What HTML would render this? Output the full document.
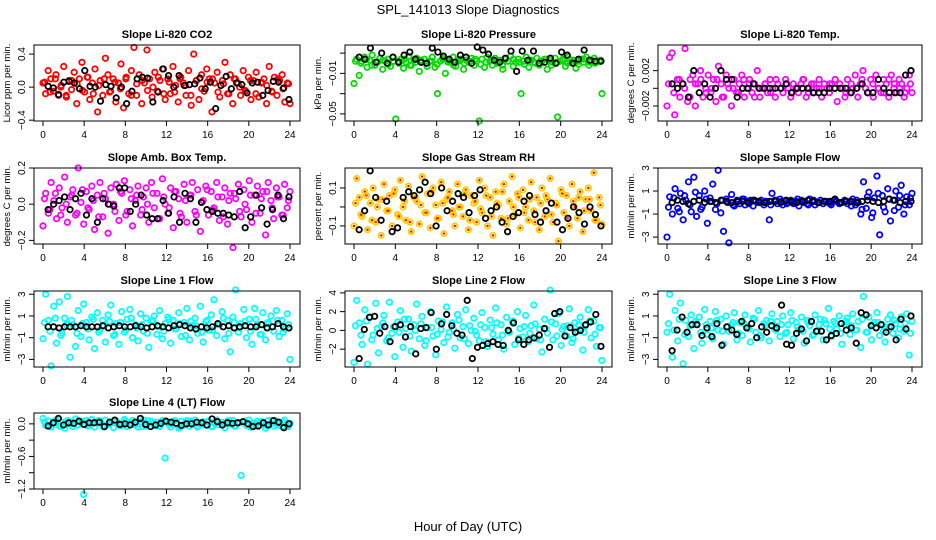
<!DOCTYPE html>
<html><head><meta charset="utf-8">
<style>
html,body{margin:0;padding:0;background:#fff;}
svg{display:block;font-family:"Liberation Sans",sans-serif;}
</style></head>
<body>
<svg id="chart" width="936" height="540" viewBox="0 0 936 540" xmlns="http://www.w3.org/2000/svg">
<rect width="936" height="540" fill="#fff"/>
<text x="468" y="14" text-anchor="middle" font-size="13">SPL_141013  Slope Diagnostics</text>
<text x="468" y="531" text-anchor="middle" font-size="13">Hour of Day (UTC)</text>
</svg>
<script>
// ---- data (spread uniformly across 0-24 h) ----
const xTicks = [0,4,8,12,16,20,24];
const co2Vals = [0.05,-0.08,0.2,0.1,-0.05,0.15,-0.1,0.02,0.25,-0.12,0.08,-0.03,0.18,-0.2,0.1,0.3,-0.06,0.12,-0.15,0.05,0.22,-0.3,0.08,-0.1,0.35,0.15,-0.05,0.1,-0.18,0.05,0.28,-0.25,0.12,-0.08,0.2,0.48,-0.1,0.15,-0.2,0.05,0.45,0.1,-0.12,0.18,-0.05,0.08,0.22,-0.15,0.1,-0.08,0.25,0.02,-0.18,0.12,0.05,-0.1,0.2,-0.22,0.4,0.08,-0.15,0.15,-0.05,0.22,0.1,-0.3,0.05,0.18,-0.12,0.08,0.3,-0.08,0.15,-0.2,0.1,0.05,-0.1,0.2,-0.05,0.12,-0.15,0.08,0.18,-0.12,0.05,0.1,-0.2,0.25,-0.05,0.12,-0.1,0.08,0.15,-0.18,0.05,-0.2];
const co2Core = [0.06,-0.06,0.1,0.0,-0.1,0.08,0.04,-0.04,0.12,-0.08,0.02,0.1,-0.06,0.06,-0.02,0.1,-0.1,0.04,0.08,-0.04,0.0,0.12,-0.08,0.06,-0.06,0.1,0.02,-0.1,0.08,-0.02,0.06,0.1,-0.06,0.04,-0.08,0.1,0.0,-0.04,0.08,-0.08,0.06,0.02,-0.06,0.1,-0.02,0.04];
const co2Black = [0.01,-0.01,-0.09,0.06,0.07,0.05,-0.02,0.2,0.01,0.0,-0.17,0.03,0.01,-0.13,0.0,-0.2,-0.05,0.1,0.12,0.11,-0.18,-0.06,0.22,0.14,0.0,0.14,0.02,0.03,0.04,0.11,-0.02,0.06,-0.26,0.02,0.13,-0.02,0.05,0.03,-0.07,0.05,0.06,-0.1,-0.04,0.07,0.06,-0.01,-0.15];
const presVals = [-0.02,0.004,-0.012,0.002,0.006,-0.004,0.003,0.008,-0.002,0.001,0.005,-0.006,0.002,0.004,-0.003,0.006,-0.055,0.002,0.004,-0.005,0.001,0.007,-0.002,0.003,0.005,-0.008,0.001,0.004,-0.003,0.002,0.006,-0.004,-0.03,0.002,0.005,-0.01,0.003,0.001,0.006,-0.003,0.002,0.004,-0.006,0.003,0.001,0.005,-0.002,0.002,-0.057,0.004,-0.004,0.006,0.002,-0.002,0.005,0.001,0.003,-0.006,0.004,0.002,0.007,-0.003,0.001,0.004,-0.03,0.002,0.006,-0.004,0.003,0.001,0.005,-0.002,0.002,0.004,-0.006,0.003,0.001,0.005,-0.053,0.002,0.004,-0.003,0.006,0.001,0.003,-0.005,0.002,0.004,0.001,0.006,-0.002,0.003,0.005,0.001,0.002,-0.03];
const presCore = [0.002,0.0,0.004,-0.002,0.001,0.003,-0.001,0.002,0.0,0.004,-0.002,0.001,0.003,0.0,0.002,-0.001,0.004,0.001,-0.002,0.003,0.0,0.002,0.004,-0.001,0.001,0.003,0.0,-0.002,0.002,0.004,0.001,-0.001,0.003,0.0,0.002,0.004,-0.002,0.001,0.003,0.0,0.002,-0.001,0.004,0.001,0.0,0.003];
const presBlack = [0.006,0.004,0.015,0.001,0.01,0.0,0.006,0.001,0.008,0.011,0.004,0.001,0.0,0.015,0.011,0.007,0.004,0.001,0.008,0.006,0.0,0.016,0.013,0.009,0.003,0.001,0.005,0.012,-0.008,0.012,0.003,0.012,0.0,0.001,0.005,0.0,0.011,0.008,0.0,0.004,0.013,0.003,0.002,0.002];
const tempVals = [-0.002,0.0035,0.004,-0.003,0.001,-0.001,0.0005,0.0045,-0.0015,0.001,0.0015,-0.002,0.0005,0.002,-0.001,0.0,0.0015,-0.0005,0.001,-0.0015,0.0025,0.0005,-0.001,0.0015,0.0,-0.002,0.001,-0.0005,0.0005,0.0015,-0.001,0.0,0.001,-0.0005,0.0005,0.002,-0.001,0.0,0.0005,-0.0005,0.001,0.0,-0.001,0.0005,0.0,-0.0005,0.001,0.0,-0.001,0.0005,0.0,-0.0005,0.0005,0.001,-0.001,0.0,0.0005,-0.0005,0.0,0.001,-0.001,0.0005,0.0,-0.0005,0.0005,0.0,-0.0015,0.0005,0.0,-0.001,0.001,-0.0005,0.0,0.0015,-0.001,0.0005,0.002,0.0,-0.0005,0.001,-0.001,0.0015,0.0,-0.0005,0.001,0.0005,-0.001,0.0015,0.0,-0.0005,0.001,0.0005,-0.001,0.0,0.0015,-0.0005];
const tempCore = [0.0005,-0.0005,0.001,0.0,-0.001,0.0005,0.001,-0.0005,0.0,0.001,-0.001,0.0005,0.0,-0.0005,0.001,0.0005,-0.001,0.0,0.0005,-0.0005,0.001,0.0,0.0005,-0.0005,0.0,0.001,-0.0005,0.0005,0.0,-0.0005,0.0005,0.001,0.0,-0.0005,0.0005,0.0,0.001,-0.0005,0.0005,0.0,-0.0005,0.001,0.0005,0.0,-0.0005,0.0005];
const tempBlack = [0.0005,0.0,0.0005,-0.001,0.002,-0.0005,0.0005,-0.001,0.0,0.002,0.001,0.001,-0.001,0.0,0.0,0.0005,0.0,0.0,0.0,0.0,0.0,0.0005,-0.0005,0.0,0.0,0.0,-0.0005,-0.0005,-0.0005,0.0,0.0,0.0,0.0,-0.0005,0.0,0.0005,-0.0005,-0.0005,0.001,0.0,-0.0005,-0.0005,-0.0005,0.0015,0.002];
const ambVals = [-0.12,0.06,-0.05,0.12,0.02,-0.08,0.09,-0.02,0.15,-0.1,0.04,0.08,-0.06,0.2,0.01,-0.11,0.07,-0.03,0.1,-0.14,0.05,0.12,-0.07,0.03,-0.16,0.09,0.0,0.11,-0.09,0.06,0.13,-0.04,0.08,-0.12,0.02,0.1,-0.06,0.04,0.09,-0.1,0.12,-0.02,0.06,-0.08,0.14,0.0,-0.05,0.09,-0.13,0.07,0.03,-0.07,0.11,-0.1,0.05,0.12,-0.04,0.08,-0.15,0.02,0.1,-0.06,0.07,-0.02,0.12,-0.09,0.04,0.09,-0.11,0.06,-0.24,0.03,0.11,-0.07,0.08,-0.03,0.13,-0.1,0.05,0.1,-0.05,0.07,-0.17,0.12,0.02,-0.08,0.09,0.04,-0.06,0.11,-0.02,0.07];
const ambCore = [0.03,-0.03,0.06,-0.06,0.0,0.05,-0.05,0.08,-0.02,0.02,-0.07,0.06,0.0,-0.04,0.07,-0.06,0.03,0.05,-0.03,0.0,0.06,-0.08,0.04,-0.02,0.07,-0.05,0.02,0.05,-0.06,0.01,0.08,-0.03,0.04,-0.07,0.02,0.06,-0.04,0.0,0.05,-0.05,0.03,0.07,-0.02,0.04,-0.06,0.02];
const ambBlack = [-0.03,0.0,0.02,0.04,-0.03,0.03,0.06,-0.06,0.03,-0.1,0.03,0.0,-0.01,0.09,0.09,-0.04,0.0,0.05,-0.06,-0.08,-0.08,0.02,-0.05,0.04,-0.1,0.06,0.03,-0.1,0.01,-0.03,-0.04,-0.05,-0.05,-0.06,-0.07,0.07,-0.13,-0.07,0.05,-0.02,-0.11,-0.03,0.05,-0.08,0.04];
const rhVals = [-0.1,0.15,0.05,-0.05,0.08,-0.12,0.02,0.1,-0.08,0.04,-0.15,0.12,-0.02,0.06,-0.1,0.09,-0.04,0.14,0.0,-0.07,0.11,-0.13,0.05,0.03,-0.09,0.16,-0.03,0.07,-0.11,0.1,0.01,-0.06,0.13,-0.14,0.04,0.08,-0.02,-0.1,0.12,0.0,-0.05,0.09,-0.12,0.06,0.02,-0.08,0.14,-0.03,0.1,-0.1,0.05,-0.15,0.08,0.01,-0.06,0.12,-0.09,0.03,0.16,-0.04,0.07,-0.11,0.09,0.0,-0.07,0.13,-0.02,0.05,-0.12,0.1,-0.05,0.04,0.15,-0.08,0.02,-0.18,0.09,-0.03,0.06,-0.1,0.12,0.0,-0.06,0.08,-0.13,0.04,0.1,-0.02,0.18,-0.07,0.05,-0.09];
const rhCore = [0.02,-0.04,0.06,-0.07,0.0,0.04,-0.02,0.07,-0.05,0.03,-0.08,0.05,0.01,-0.03,0.08,-0.06,0.02,0.05,-0.04,0.0,0.07,-0.07,0.03,-0.01,0.06,-0.05,0.02,0.08,-0.06,0.0,0.05,-0.03,0.04,-0.08,0.02,0.06,-0.04,0.01,0.07,-0.06,0.03,0.05,-0.02,0.04,-0.07,0.01];
const rhBlack = [-0.12,-0.02,0.19,0.05,-0.07,0.03,-0.13,-0.11,0.05,0.08,0.06,0.09,0.13,0.07,-0.1,0.1,-0.02,0.03,0.07,0.05,-0.03,0.06,0.09,-0.06,-0.02,0.0,-0.08,-0.13,-0.05,-0.03,0.03,0.06,-0.04,-0.08,-0.02,0.02,-0.08,-0.12,-0.06,0.0,-0.03,-0.09,0.0,-0.04,-0.1];
const sampleVals = [-3.0,0.5,-1.0,1.2,-0.5,0.8,-1.5,0.2,1.8,-0.8,2.2,-1.2,0.6,-0.4,1.0,-1.8,0.4,1.6,-0.6,2.8,-0.9,-2.5,0.3,-3.5,0.7,-0.3,0.2,-0.1,0.3,-0.2,0.1,0.2,-0.3,0.1,0.0,0.2,-0.2,0.1,-1.5,0.8,0.2,-0.1,0.3,-0.2,0.1,0.0,0.2,-0.1,0.1,-0.3,0.2,0.0,-0.1,0.3,0.1,-0.2,0.0,0.2,-0.1,0.1,0.0,-0.2,0.2,0.1,-0.1,0.0,0.2,-0.1,0.1,0.3,-0.2,0.0,-1.0,1.8,-0.5,0.9,-1.3,0.4,2.3,-2.8,0.6,-0.8,1.2,-1.6,0.2,1.0,-0.4,1.5,-1.0,0.5,-0.2,0.8];
const sampleCore = [-0.4,0.4,-0.8,0.6,-0.2,0.9,-0.6,0.3,0.1,-0.1,0.2,0.0,-0.2,0.1,0.3,-0.1,0.2,0.0,0.1,-0.2,0.2,0.1,-0.1,0.0,0.3,0.1,-0.2,0.2,0.0,0.1,-0.1,0.2,0.0,0.1,-0.3,0.2,-0.6,0.5,-0.9,0.8,-0.4,0.3,-0.7,0.6,-0.2,0.4];
const sampleBlack = [0.0,0.2,0.1,-0.1,0.1,0.2,0.0,0.1,0.0,0.2,0.1,0.0,0.1,0.1,0.0,0.2,0.1,0.0,0.1,0.1,0.0,0.2,0.1,0.0,0.1,0.2,0.1,0.0,0.1,0.1,0.3,0.0,0.1,0.1,0.0,0.1,0.2,0.1,0.0,0.1,0.3,0.2,0.0,0.1,0.1];
const line1Vals = [-1.1,3.0,0.6,-3.6,1.9,-1.5,2.3,-0.6,0.8,2.8,-2.8,0.2,-1.8,1.5,-0.9,2.1,0.4,-1.2,0.9,-2.0,1.3,-0.3,0.6,-1.4,1.1,2.0,-0.8,0.3,-1.6,1.4,-0.5,0.7,1.6,-1.0,0.2,-1.3,1.2,-0.4,0.8,-1.9,0.5,1.0,-0.7,1.5,-1.1,0.3,0.9,-1.5,0.6,-0.2,1.3,-0.9,0.4,1.7,-1.2,0.1,0.8,-0.6,1.9,-1.4,0.5,-0.3,1.1,2.5,-0.8,0.2,1.4,-1.1,0.6,-2.3,0.9,3.4,-0.5,0.3,1.6,-1.0,0.7,-1.6,1.7,0.2,-0.7,1.3,-1.2,0.4,1.0,-0.4,1.5,-0.9,0.6,-0.2,1.2,-3.0];
const line1Core = [0.4,-0.4,0.8,-0.8,0.2,0.6,-0.6,0.3,-0.2,0.7,-0.5,0.1,0.5,-0.7,0.4,-0.3,0.8,-0.1,0.2,-0.6,0.6,0.0,-0.4,0.7,-0.2,0.3,-0.8,0.5,0.1,-0.5,0.6,-0.3,0.2,0.8,-0.6,0.4,-0.1,0.5,-0.4,0.7,-0.7,0.3,0.0,0.6,-0.5,0.2];
const line1Black = [0.0,0.0,-0.1,0.0,0.0,0.0,0.1,0.0,0.0,0.0,0.1,-0.1,0.0,0.1,0.0,0.0,0.1,0.0,-0.1,0.0,0.1,0.0,-0.1,0.1,0.2,0.1,-0.1,-0.2,0.0,-0.1,0.0,0.3,0.0,0.1,-0.1,0.0,0.1,0.0,0.0,0.2,-0.1,0.0,0.3,0.0,-0.1];
const line2Vals = [-3.4,3.2,0.8,-1.5,2.2,-3.6,1.4,-0.5,2.9,-2.4,0.4,1.6,-1.1,3.0,-0.3,-2.8,0.9,2.1,-1.8,0.2,1.2,-2.2,0.6,2.8,-0.9,1.5,-1.6,0.3,2.0,-0.6,-2.6,1.0,0.1,-1.3,2.5,-0.2,0.8,-1.9,1.7,-0.8,0.4,2.2,-1.4,0.0,1.3,-0.5,-1.1,1.9,0.3,-1.7,1.1,-0.4,2.4,-1.0,0.6,-2.0,1.4,-0.2,0.9,-1.5,2.0,0.2,-0.7,1.6,-1.2,0.5,2.7,-0.9,0.1,-2.3,1.2,-0.3,4.3,-1.0,0.7,1.8,-1.6,0.4,-0.6,2.3,-1.3,0.8,-0.1,1.4,-2.1,0.5,2.2,-0.8,1.0,-1.7,0.3,-3.2];
const line2Core = [0.5,-0.5,1.0,-1.0,0.2,0.8,-0.8,0.4,-0.2,1.2,-0.6,0.0,0.7,-1.1,0.3,-0.4,0.9,-0.7,0.1,1.1,-0.9,0.5,-0.1,0.6,-1.2,0.3,0.8,-0.5,0.0,1.0,-0.8,0.4,-0.3,0.7,-1.0,0.2,0.9,-0.6,0.1,0.5,-0.9,0.6,-0.2,1.0,-0.4,0.3];
const line2Black = [-3.0,0.1,1.4,1.5,-0.3,0.4,-1.2,0.4,0.6,-0.7,0.4,-2.5,0.2,0.3,1.9,-2.0,0.7,1.7,0.5,-0.3,-0.5,3.2,-3.0,-1.8,-1.6,-1.4,-1.2,-1.5,-1.6,0.0,0.8,-1.0,-1.5,-1.0,-0.8,-0.5,0.2,-1.8,1.8,2.0,-0.6,0.3,-0.2,0.0,0.6,0.9,1.7,-1.7];
const line3Vals = [-0.5,3.0,-2.8,1.5,-1.3,2.2,-3.4,0.6,-0.9,1.1,-2.0,0.3,0.9,-1.5,1.6,-0.7,0.5,-1.1,1.4,-0.3,0.7,-1.6,1.0,-0.4,0.2,1.3,-1.2,0.4,-0.8,1.1,0.0,-1.4,0.8,-0.5,1.5,-1.0,0.3,0.6,-1.3,1.2,-0.2,0.5,-0.9,1.0,-0.6,0.2,1.3,-1.1,0.4,-0.3,0.9,-1.5,0.6,0.1,-0.8,1.1,-0.4,0.7,-1.2,0.3,1.7,-0.9,0.5,-0.2,1.0,-1.6,0.2,0.8,-0.7,1.2,-0.3,0.5,-1.9,2.8,-0.5,0.9,-1.2,0.4,1.3,-0.8,0.2,-1.4,0.7,1.1,-0.6,0.3,-1.0,0.9,-0.4,1.2,-2.6,0.5];
const line3Core = [0.3,-0.3,0.7,-0.7,0.1,0.5,-0.5,0.2,-0.1,0.6,-0.4,0.0,0.4,-0.6,0.3,-0.2,0.7,-0.8,0.1,0.5,-0.3,0.2,-0.5,0.6,0.0,-0.4,0.4,-0.7,0.2,0.6,-0.2,0.3,-0.6,0.5,0.1,-0.3,0.7,-0.5,0.2,0.4,-0.4,0.0,0.6,-0.2,0.3,-0.6];
const line3Black = [-2.2,-0.3,0.9,-0.5,0.2,0.2,-0.8,-0.1,-0.9,0.3,-1.7,0.0,-0.3,-0.7,0.5,-0.1,0.3,-1.0,0.0,-0.5,0.1,-0.1,2.0,-1.6,-1.7,-0.6,-0.2,-1.3,0.5,-0.4,-0.4,-1.2,-0.8,-0.6,0.3,-0.3,-0.1,-1.5,1.3,1.1,0.1,-0.1,0.2,-0.5,0.0,-1.2,0.7,-0.2,1.0];
const line4Vals = [0.1,-0.03,0.05,-0.06,0.02,0.07,-0.04,0.03,-0.08,0.06,0.0,-0.05,0.09,-0.02,0.04,-1.3,0.06,-0.03,0.08,-0.06,0.02,0.05,-0.04,0.07,-0.01,0.03,-0.07,0.05,0.0,-0.03,0.08,-0.05,0.02,0.06,-0.02,-0.06,0.04,0.07,-0.04,0.01,0.05,-0.03,0.03,-0.05,0.06,-0.63,0.02,-0.06,0.04,0.0,-0.08,0.05,-0.02,0.06,-0.04,0.03,0.07,-0.06,0.01,0.04,-0.03,0.05,-0.05,0.02,0.07,-0.02,0.03,-0.07,0.05,0.0,0.06,-0.04,0.02,-0.95,0.04,-0.03,0.07,-0.06,0.01,0.05,-0.02,0.03,-0.08,0.06,0.0,-0.04,0.05,0.02,-0.05,0.07,-0.03,0.01];
const line4Core = [0.03,-0.03,0.06,-0.05,0.0,0.04,-0.02,0.05,-0.04,0.02,0.06,-0.06,0.01,0.04,-0.03,0.05,-0.01,0.03,-0.05,0.06,0.0,-0.04,0.04,-0.02,0.06,-0.06,0.02,0.05,-0.03,0.01,0.04,-0.05,0.03,-0.01,0.06,-0.04,0.02,0.05,-0.06,0.0,0.04,-0.03,0.06,-0.02,0.03,-0.05];
const line4Black = [-0.04,0.02,0.1,-0.02,0.02,0.01,0.05,-0.01,0.02,0.02,0.03,-0.05,0.03,0.07,-0.01,0.0,-0.02,0.03,0.1,-0.01,-0.05,-0.02,0.01,0.05,0.03,0.01,-0.03,0.0,0.0,0.03,0.02,-0.02,0.09,0.04,-0.02,0.02,0.01,0.02,0.04,0.0,-0.05,-0.04,0.02,-0.02,0.06,0.03,-0.07,0.0];
const co2Ticks=[-0.4,0.0,0.4], presTicks=[-0.05,-0.03,-0.01,0.01], tempTicks=[-0.002,0.0,0.002], ambTicks=[-0.2,0.0,0.2], rhTicks=[-0.1,0.0,0.1], sampleTicks=[-3,-1,1,3], line1Ticks=[-3,-1,1,3], line2Ticks=[-2,0,2,4], line3Ticks=[-3,-1,1,3], line4Ticks=[-1.2,-0.9,-0.6,-0.3,0.0];
const co2Labels=['-0.4','0.0','0.4'], presLabels=['-0.05','','-0.01',''], tempLabels=['-0.002','','0.002'], ambLabels=['-0.2','0.0','0.2'], rhLabels=['-0.1','','0.1'], sampleLabels=['-3','-1','1','3'], line1Labels=['-3','-1','1','3'], line2Labels=['-2','0','2','4'], line3Labels=['-3','-1','1','3'], line4Labels=['-1.2','','-0.6','','0.0'];

const NS="http://www.w3.org/2000/svg";
const svg=document.getElementById('chart');
function mk(tag,attrs,parent){const e=document.createElementNS(NS,tag);for(const k in attrs)e.setAttribute(k,attrs[k]);(parent||svg).appendChild(e);return e;}
const cols=[[34,300],[345,612],[658,922]];
const rowsTop=[45,168,291,413];
const H=76;
const panels=[
 {t:'Slope Li-820 CO2',yl:'Licor ppm per min.',c:0,r:0,lo:-0.41,hi:0.51,ticks:co2Ticks,labs:co2Labels,vals:co2Vals,core:co2Core,blk:co2Black,col:'#ff0000',fill:'none',name:'co2'},
 {t:'Slope Li-820 Pressure',yl:'kPa per min.',c:1,r:0,lo:-0.057,hi:0.018,ticks:presTicks,labs:presLabels,vals:presVals,core:presCore,blk:presBlack,col:'#00dd00',fill:'none',name:'pressure'},
 {t:'Slope Li-820 Temp.',yl:'degrees C per min.',c:2,r:0,lo:-0.0037,hi:0.0049,ticks:tempTicks,labs:tempLabels,vals:tempVals,core:tempCore,blk:tempBlack,col:'#ff00ff',fill:'none',name:'temp'},
 {t:'Slope Amb. Box Temp.',yl:'degrees C per min.',c:0,r:1,lo:-0.22,hi:0.2,ticks:ambTicks,labs:ambLabels,vals:ambVals,core:ambCore,blk:ambBlack,col:'#ff00ff',fill:'none',name:'amb-box-temp'},
 {t:'Slope Gas Stream RH',yl:'percent per min.',c:1,r:1,lo:-0.195,hi:0.205,ticks:rhTicks,labs:rhLabels,vals:rhVals,core:rhCore,blk:rhBlack,col:'#ffcc00',fill:'red',name:'gas-rh'},
 {t:'Slope Sample Flow',yl:'ml/min per min.',c:2,r:1,lo:-3.6,hi:3.0,ticks:sampleTicks,labs:sampleLabels,vals:sampleVals,core:sampleCore,blk:sampleBlack,col:'#0000ff',fill:'none',name:'sample-flow'},
 {t:'Slope Line 1 Flow',yl:'ml/min per min.',c:0,r:2,lo:-3.7,hi:3.3,ticks:line1Ticks,labs:line1Labels,vals:line1Vals,core:line1Core,blk:line1Black,col:'#00ffff',fill:'none',name:'line1-flow'},
 {t:'Slope Line 2 Flow',yl:'ml/min per min.',c:1,r:2,lo:-3.9,hi:4.2,ticks:line2Ticks,labs:line2Labels,vals:line2Vals,core:line2Core,blk:line2Black,col:'#00ffff',fill:'none',name:'line2-flow'},
 {t:'Slope Line 3 Flow',yl:'ml/min per min.',c:2,r:2,lo:-3.7,hi:3.3,ticks:line3Ticks,labs:line3Labels,vals:line3Vals,core:line3Core,blk:line3Black,col:'#00ffff',fill:'none',name:'line3-flow'},
 {t:'Slope Line 4 (LT) Flow',yl:'ml/min per min.',c:0,r:3,lo:-1.2,hi:0.2,ticks:line4Ticks,labs:line4Labels,vals:line4Vals,core:line4Core,blk:line4Black,col:'#00ffff',fill:'none',name:'line4-flow'}
];
panels.forEach(p=>{
  const [L,R]=cols[p.c], T=rowsTop[p.r], B=T+H;
  const g=mk('g',{});
  
  
  const xs=h=>L+9+(h/24)*(R-L-19);
  const ys=v=>B-(v-p.lo)/(p.hi-p.lo)*H;
  const tt=mk('text',{x:(L+R)/2,y:T-7,'text-anchor':'middle','font-size':11,'font-weight':'bold'},g);
  tt.textContent=p.t;
  
  
  function drawSeries(arr,off,span){
    const n=arr.length;
    arr.forEach((v,i)=>{
      const cx=xs(off+i*span/(n-1)), cy=ys(v);
      const c=mk('circle',{cx:cx,cy:cy,r:2.7,fill:'none',stroke:p.col,'stroke-width':1.8},g);
      
      
      if(p.fill!=='none'){const d=mk('circle',{cx:cx,cy:cy,r:1.2,fill:p.fill},g);
        
        }
    });
  }
  drawSeries(p.vals,0,24);
  drawSeries(p.core,0.15,23.7);
  const m=p.blk.length;
  p.blk.forEach((v,i)=>{
    const c=mk('circle',{cx:xs(0.5+i*23.4/(m-1)),cy:ys(v),r:2.7,fill:'none',stroke:'#000','stroke-width':1.8},g);
    
    
  });
  const box=mk('rect',{x:L,y:T,width:R-L,height:H,fill:'none',stroke:'#000','stroke-width':1},g);
  
  
  xTicks.forEach(h=>{
    const x=xs(h);
    mk('line',{x1:x,x2:x,y1:B,y2:B+5,stroke:'#000'},g);
    const tx=mk('text',{x:x,y:B+17,'text-anchor':'middle','font-size':10},g);
    tx.textContent=h;
    
    
  });
  p.ticks.forEach((v,i)=>{
    const y=ys(v);
    mk('line',{x1:L-5,x2:L,y1:y,y2:y,stroke:'#000'},g);
    const lab=p.labs[i];
    if(lab){
      const ty=mk('text',{x:L-9,y:y,'text-anchor':'middle','font-size':10,transform:`rotate(-90 ${L-9} ${y})`},g);
      ty.textContent=lab.replace('-','\u2212');
      
      
    }
  });
  const yx=L-24, yy=(T+B)/2;
  const yl=mk('text',{x:yx,y:yy,'text-anchor':'middle','font-size':9.5,transform:`rotate(-90 ${yx} ${yy})`},g);
  yl.textContent=p.yl;
  
  
});
</script>
</body></html>
